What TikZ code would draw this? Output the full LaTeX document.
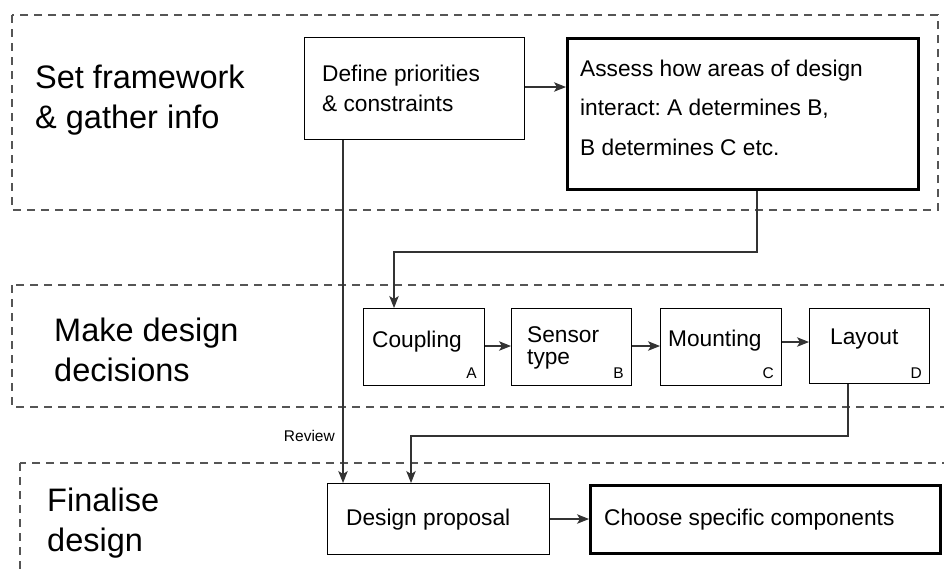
\documentclass[tikz,border=0pt]{standalone}
\usepackage{fontspec}
\setmainfont{Liberation Sans}
\usetikzlibrary{arrows.meta}
\definecolor{dashgray}{HTML}{555555}
\definecolor{linegray}{HTML}{333333}
\frenchspacing

\begin{document}
\begin{tikzpicture}[x=1pt,y=-1pt,
  stage/.style={draw=dashgray, line width=1.2pt, dash pattern=on 8pt off 6pt},
  box/.style={draw=black, line width=1.4pt, fill=white, inner sep=0pt, anchor=north west},
  boldbox/.style={box, line width=2.6pt},
  head/.style={anchor=base west, inner sep=0pt, align=left, font=\fontsize{32.5}{40}\selectfont},
  txt/.style={anchor=base west, inner sep=0pt, align=left, font=\fontsize{22.7}{30}\selectfont},
  tag/.style={anchor=base east, inner sep=0pt, font=\fontsize{15.5}{18}\selectfont},
  conn/.style={draw=linegray, line width=1.1pt, -{Stealth[length=12pt,width=9.5pt,inset=3pt]}},
]
\useasboundingbox (0,0) rectangle (944,571);
\clip (0,0) rectangle (944,571);

% stage frames
\draw[stage] (12,15) rectangle (938,210);
\draw[stage] (12,285) rectangle (960,407);
\draw[stage] (20,463) rectangle (960,590);

% stage headings (base anchor sits on the last line)
\node[head] (h1) at (35,128) {Set framework\\\& gather info};
\node[head] (h2) at (54,381) {Make design\\decisions};
\node[head] (h3) at (47,551) {Finalise\\design};

% boxes
\node[box, minimum width=220pt, minimum height=102pt] (def) at (304,37) {};
\node[boldbox, minimum width=351pt, minimum height=151pt] (ass) at (566,37) {};
\node[box, minimum width=121pt, minimum height=77pt] (cpl) at (363,308) {};
\node[box, minimum width=120pt, minimum height=77pt] (sen) at (511,308) {};
\node[box, minimum width=121pt, minimum height=77pt] (mnt) at (660,308) {};
\node[box, minimum width=120pt, minimum height=75pt] (lay) at (809,308) {};
\node[box, minimum width=222pt, minimum height=71pt] (prop) at (327,483) {};
\node[boldbox, minimum width=350pt, minimum height=68pt] (comp) at (589,484) {};

% box texts
\node[txt] (def-t) at (322,111) {Define priorities\\\& constraints};
\node[txt, font=\fontsize{22.7}{39.5}\selectfont] (ass-t) at (580,155)
  {Assess how areas of design\\interact: A determines B,\\B determines C etc.};
\node[txt] (cpl-t) at (372,347) {Coupling};
\node[txt, font=\fontsize{22.7}{22}\selectfont] (sen-t) at (527,364) {Sensor\\type};
\node[txt] (mnt-t) at (668,346) {Mounting};
\node[txt] (lay-t) at (830,344) {Layout};
\node[txt] (prop-t) at (346,525) {Design proposal};
\node[txt] (comp-t) at (604,525) {Choose specific components};

% area tags
\node[tag] (tA) at (477,378) {A};
\node[tag] (tB) at (624,378) {B};
\node[tag] (tC) at (774,378) {C};
\node[tag] (tD) at (922,378) {D};

% connectors
\draw[conn] (def.east |- 0,87) -- (ass.west |- 0,87);
\draw[conn] (ass.south -| 757,0) |- (394,252) -- (cpl.north -| 394,0);
\draw[conn] (def.south -| 343,0) -- (prop.north -| 343,0);
\node[tag] (rev) at (335,441) {Review};
\draw[conn] (cpl.east |- 0,346) -- (sen.west |- 0,346);
\draw[conn] (sen.east |- 0,346) -- (mnt.west |- 0,346);
\draw[conn] (mnt.east |- 0,342) -- (lay.west |- 0,342);
\draw[conn] (lay.south -| 848,0) |- (411,436) -- (prop.north -| 411,0);
\draw[conn] (prop.east |- 0,519) -- (comp.west |- 0,519);
\end{tikzpicture}
\end{document}
